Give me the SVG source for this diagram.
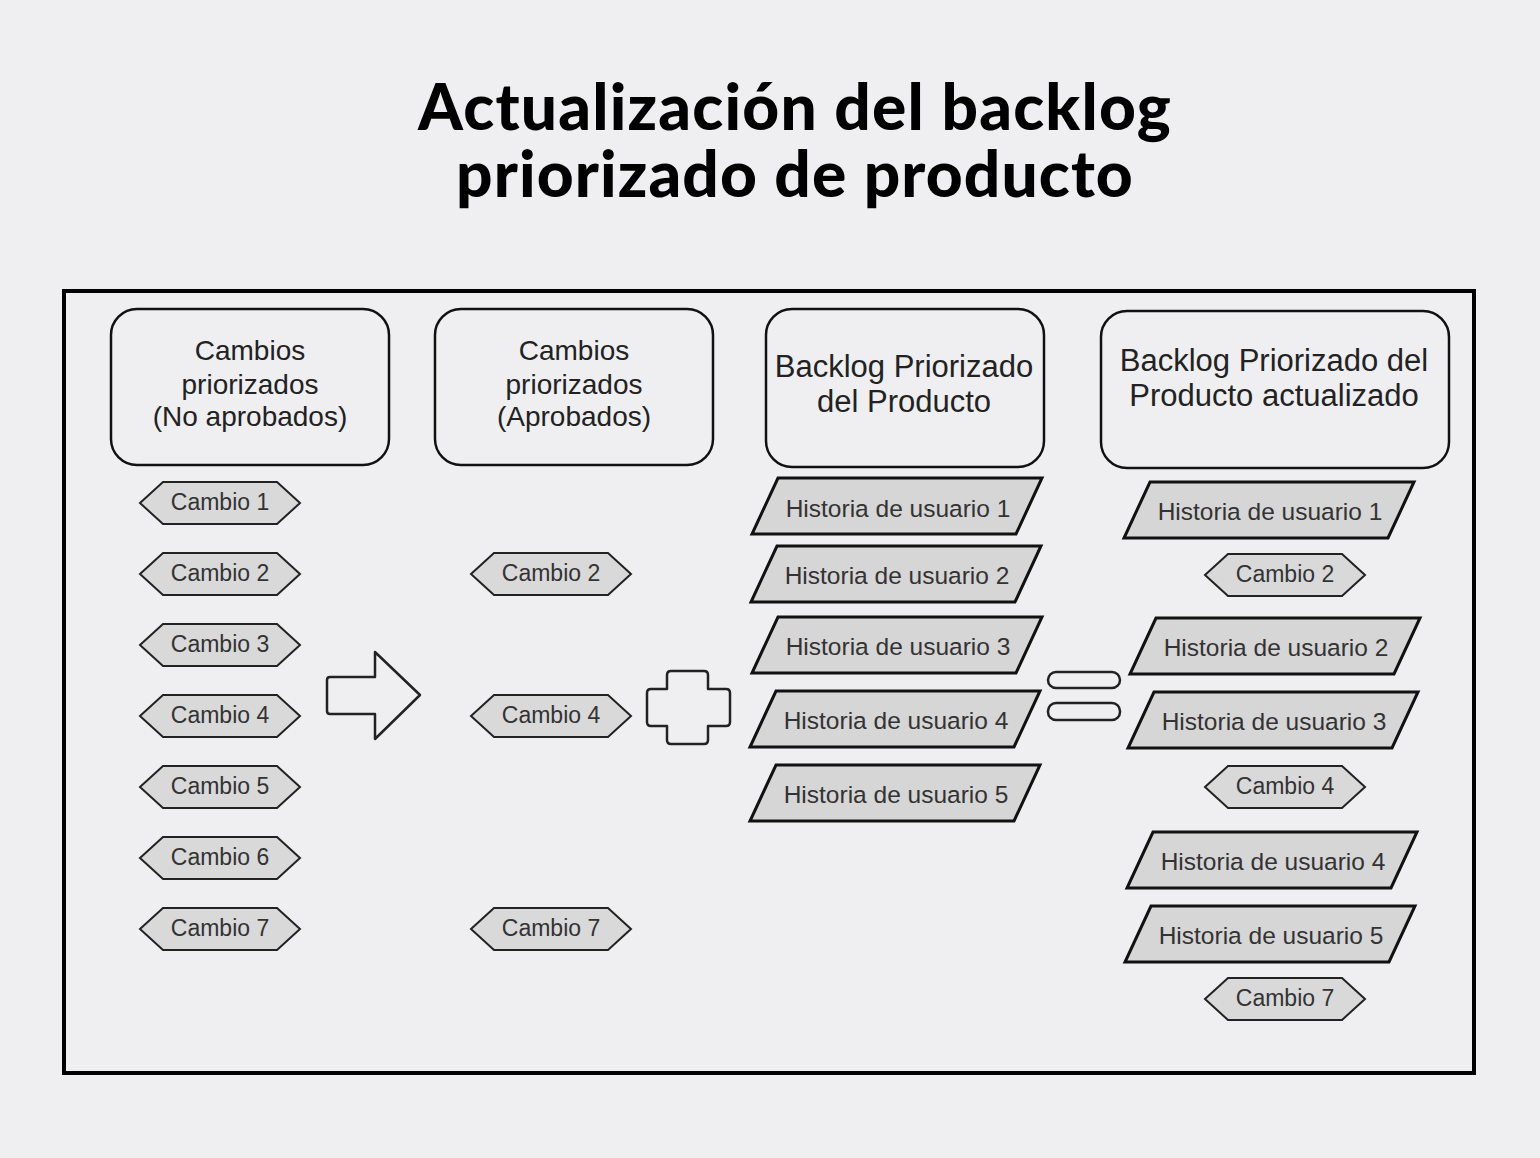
<svg xmlns="http://www.w3.org/2000/svg" width="1540" height="1158" viewBox="0 0 1540 1158">
<style>
.hdr{fill:none;stroke:#111;stroke-width:2.5}
.ht{font-family:"Liberation Sans",Arial,sans-serif;fill:#222;text-anchor:middle}
.hex{fill:#d9d9d9;stroke:#222;stroke-width:2}
.par{fill:#d6d6d6;stroke:#111;stroke-width:3}
.ct{font-family:"Liberation Sans",Arial,sans-serif;font-size:23px;fill:#333;text-anchor:middle}
.pt{font-family:"Liberation Sans",Arial,sans-serif;font-size:24.5px;fill:#333;text-anchor:middle}
.sym{fill:none;stroke:#222;stroke-width:2.5;stroke-linejoin:round}
</style>
<defs>
<polygon id="hx" points="-80,0 -57,-21 57,-21 80,0 57,21 -57,21"/>
<polygon id="pg" points="-120,-28 144,-28 118,28 -146,28"/>
</defs>
<rect width="1540" height="1158" fill="#efeff1"/>
<g id="title" font-family="Lato,'Open Sans',sans-serif" font-weight="900" font-size="64" fill="#000" text-anchor="middle">
<text x="795" y="130" letter-spacing="1.2">Actualización del backlog</text>
<text x="795" y="197" letter-spacing="1.1">priorizado de producto</text>
</g>
<g id="frame"><rect x="64" y="291" width="1410" height="782" fill="none" stroke="#000" stroke-width="4"/></g>
<g id="h1"><rect class="hdr" x="111" y="309" width="278" height="156" rx="26"/>
<text class="ht" font-size="28" x="250" y="360">Cambios</text>
<text class="ht" font-size="28" x="250" y="394">priorizados</text>
<text class="ht" font-size="28" x="250" y="426">(No aprobados)</text></g>
<g id="h2"><rect class="hdr" x="435" y="309" width="278" height="156" rx="26"/>
<text class="ht" font-size="28" x="574" y="360">Cambios</text>
<text class="ht" font-size="28" x="574" y="394">priorizados</text>
<text class="ht" font-size="28" x="574" y="426">(Aprobados)</text></g>
<g id="h3"><rect class="hdr" x="766" y="309" width="278" height="158" rx="26"/>
<text class="ht" font-size="31" x="904" y="377">Backlog Priorizado</text>
<text class="ht" font-size="31" x="904" y="412">del Producto</text></g>
<g id="h4"><rect class="hdr" x="1101" y="311" width="348" height="157" rx="26"/>
<text class="ht" font-size="31" x="1274" y="371">Backlog Priorizado del</text>
<text class="ht" font-size="31" x="1274" y="406">Producto actualizado</text></g>
<g id="col1">
<g id="c1-1" transform="translate(220,503)"><use href="#hx" class="hex"/><text class="ct" y="7">Cambio 1</text></g>
<g id="c1-2" transform="translate(220,574)"><use href="#hx" class="hex"/><text class="ct" y="7">Cambio 2</text></g>
<g id="c1-3" transform="translate(220,645)"><use href="#hx" class="hex"/><text class="ct" y="7">Cambio 3</text></g>
<g id="c1-4" transform="translate(220,716)"><use href="#hx" class="hex"/><text class="ct" y="7">Cambio 4</text></g>
<g id="c1-5" transform="translate(220,787)"><use href="#hx" class="hex"/><text class="ct" y="7">Cambio 5</text></g>
<g id="c1-6" transform="translate(220,858)"><use href="#hx" class="hex"/><text class="ct" y="7">Cambio 6</text></g>
<g id="c1-7" transform="translate(220,929)"><use href="#hx" class="hex"/><text class="ct" y="7">Cambio 7</text></g>
</g>
<g id="col2">
<g id="c2-2" transform="translate(551,574)"><use href="#hx" class="hex"/><text class="ct" y="7">Cambio 2</text></g>
<g id="c2-4" transform="translate(551,716)"><use href="#hx" class="hex"/><text class="ct" y="7">Cambio 4</text></g>
<g id="c2-7" transform="translate(551,929)"><use href="#hx" class="hex"/><text class="ct" y="7">Cambio 7</text></g>
</g>
<g id="col3">
<g id="u3-1" transform="translate(898,506)"><use href="#pg" class="par"/><text class="pt" y="11">Historia de usuario 1</text></g>
<g id="u3-2" transform="translate(897,574)"><use href="#pg" class="par"/><text class="pt" y="10">Historia de usuario 2</text></g>
<g id="u3-3" transform="translate(898,645)"><use href="#pg" class="par"/><text class="pt" y="10">Historia de usuario 3</text></g>
<g id="u3-4" transform="translate(896,719)"><use href="#pg" class="par"/><text class="pt" y="10">Historia de usuario 4</text></g>
<g id="u3-5" transform="translate(896,793)"><use href="#pg" class="par"/><text class="pt" y="10">Historia de usuario 5</text></g>
</g>
<g id="col4">
<g id="u4-1" transform="translate(1270,510)"><use href="#pg" class="par"/><text class="pt" y="10">Historia de usuario 1</text></g>
<g id="c4-2" transform="translate(1285,575)"><use href="#hx" class="hex"/><text class="ct" y="7">Cambio 2</text></g>
<g id="u4-2" transform="translate(1276,646)"><use href="#pg" class="par"/><text class="pt" y="10">Historia de usuario 2</text></g>
<g id="u4-3" transform="translate(1274,720)"><use href="#pg" class="par"/><text class="pt" y="10">Historia de usuario 3</text></g>
<g id="c4-4" transform="translate(1285,787)"><use href="#hx" class="hex"/><text class="ct" y="7">Cambio 4</text></g>
<g id="u4-4" transform="translate(1273,860)"><use href="#pg" class="par"/><text class="pt" y="10">Historia de usuario 4</text></g>
<g id="u4-5" transform="translate(1271,934)"><use href="#pg" class="par"/><text class="pt" y="10">Historia de usuario 5</text></g>
<g id="c4-7" transform="translate(1285,999)"><use href="#hx" class="hex"/><text class="ct" y="7">Cambio 7</text></g>
</g>
<g id="operators">
<path id="arrow" class="sym" d="M330,677 H375 V652 L420,695 L375,739 V714 H330 Q327,714 327,711 V680 Q327,677 330,677 Z"/>
<path id="plus" class="sym" d="M671,671 H704 Q708,671 708,675 V689 H726 Q730,689 730,693 V722 Q730,726 726,726 H708 V740 Q708,744 704,744 H671 Q667,744 667,740 V726 H651 Q647,726 647,722 V693 Q647,689 651,689 H667 V675 Q667,671 671,671 Z"/>
<g id="equals"><rect class="sym" x="1048" y="672" width="72" height="16" rx="8"/><rect class="sym" x="1048" y="703" width="72" height="17" rx="8"/></g>
</g>
</svg>
